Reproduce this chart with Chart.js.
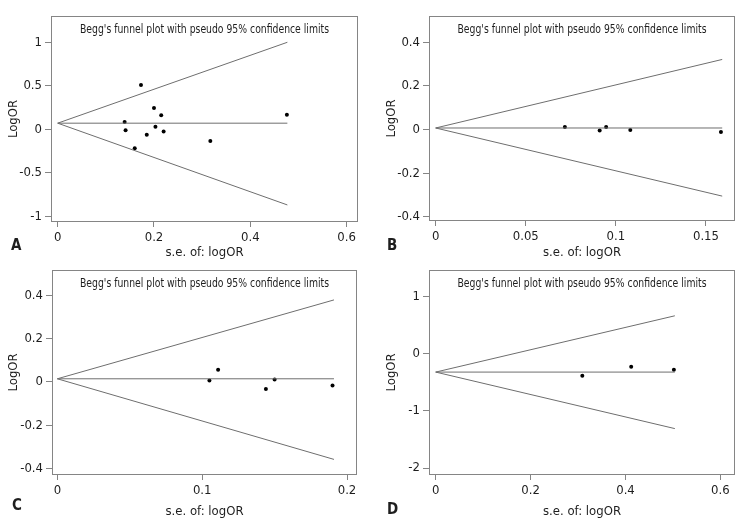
<!DOCTYPE html>
<html>
<head>
<meta charset="utf-8">
<script src="https://cdn.jsdelivr.net/npm/chart.js@4.4.1/dist/chart.umd.min.js"></script>
<style>
body{margin:0;background:#fff;}
#wrap{position:relative;width:750px;height:518px;background:#fff;}
canvas{position:absolute;}
</style>
</head>
<body>
<div id="wrap">
<canvas id="chartA" width="375" height="259" style="left:0;top:0"></canvas>
<canvas id="chartB" width="375" height="259" style="left:375px;top:0"></canvas>
<canvas id="chartC" width="375" height="259" style="left:0;top:259px"></canvas>
<canvas id="chartD" width="375" height="259" style="left:375px;top:259px"></canvas>
</div>
<script>
const plotTitle = "Begg's funnel plot with pseudo 95% confidence limits";
const xTitle = "s.e. of: logOR";
const yTitle = "LogOR";

// panel A
const seA = [0.139, 0.141, 0.173, 0.160, 0.185, 0.200, 0.203, 0.215, 0.220, 0.317, 0.476];
const logOrA = [0.084, -0.012, 0.51, -0.218, -0.062, 0.245, 0.03, 0.161, -0.027, -0.134, 0.168];
const funnelSeA = [0, 0.477];
const funnelUpA = [0.07, 1.0];
const funnelMidA = [0.07, 0.07];
const funnelLowA = [0.07, -0.87];
const xTicksA = [0, 0.2, 0.4, 0.6];
const yTicksA = [-1, -0.5, 0, 0.5, 1];

// panel B
const seB = [0.0717, 0.091, 0.0946, 0.108, 0.1583];
const logOrB = [0.012, -0.005, 0.012, -0.002, -0.011];
const funnelSeB = [0, 0.159];
const funnelUpB = [0.007, 0.321];
const funnelMidB = [0.007, 0.007];
const funnelLowB = [0.007, -0.305];
const xTicksB = [0, 0.05, 0.1, 0.15];
const yTicksB = [-0.4, -0.2, 0, 0.2, 0.4];

// panel C
const seC = [0.105, 0.111, 0.144, 0.150, 0.190];
const logOrC = [0.006, 0.056, -0.033, 0.011, -0.017];
const funnelSeC = [0, 0.191];
const funnelUpC = [0.014, 0.378];
const funnelMidC = [0.014, 0.014];
const funnelLowC = [0.014, -0.358];
const xTicksC = [0, 0.1, 0.2];
const yTicksC = [-0.4, -0.2, 0, 0.2, 0.4];

// panel D
const seD = [0.309, 0.412, 0.502];
const logOrD = [-0.385, -0.23, -0.28];
const funnelSeD = [0, 0.504];
const funnelUpD = [-0.322, 0.662];
const funnelMidD = [-0.322, -0.322];
const funnelLowD = [-0.322, -1.31];
const xTicksD = [0, 0.2, 0.4, 0.6];
const yTicksD = [-2, -1, 0, 1];

const FONT = "'Liberation Sans Narrow', 'DejaVu Sans Condensed', Arial, sans-serif";
const TEXT = "#1e1e1e";
const GREY = "#858585";

function pts(xs, ys){
    return xs.map((x, i) => ({x: x, y: ys[i]}));
}

const framePlugin = {
    id: "frame",
    afterDraw(chart, args, opts){
        const a = chart.chartArea;
        const c = chart.ctx;
        c.save();
        c.strokeStyle = GREY;
        c.lineWidth = 1;
        c.strokeRect(Math.round(a.left) + 0.5, Math.round(a.top) + 0.5,
            Math.round(a.right - a.left) - 1, Math.round(a.bottom - a.top) - 1);
        c.fillStyle = TEXT;
        c.font = "12.5px " + FONT;
        c.textAlign = "center";
        c.textBaseline = "alphabetic";
        // squeeze to the condensed width of the original
        c.fillText(plotTitle, (a.left + a.right) / 2, a.top + 17, 249);
        c.font = "bold 15px " + FONT;
        c.textAlign = "left";
        c.fillText(opts.letter, opts.lx, opts.ly);
        c.restore();
    }
};

function makePanel(id, p){
    const ctx = document.getElementById(id);
    return new Chart(ctx, {
        type: "scatter",
        data: {
            datasets: [
                {data: pts(p.fse, p.up), showLine: true, borderColor: "#6e6e6e", borderWidth: 1, pointRadius: 0},
                {data: pts(p.fse, p.mid), showLine: true, borderColor: "#6e6e6e", borderWidth: 1, pointRadius: 0},
                {data: pts(p.fse, p.low), showLine: true, borderColor: "#6e6e6e", borderWidth: 1, pointRadius: 0},
                {data: pts(p.se, p.lor), showLine: false, pointRadius: 2, pointBackgroundColor: "#000", pointBorderWidth: 0}
            ]
        },
        plugins: [framePlugin],
        options: {
            responsive: false,
            animation: false,
            layout: {padding: {left: 0, right: 375 - p.box[1], top: p.box[2], bottom: 0}},
            plugins: {
                legend: {display: false},
                tooltip: {enabled: false},
                frame: {letter: p.letter, lx: p.lx, ly: p.ly}
            },
            scales: {
                x: {
                    type: "linear",
                    min: p.xr[0], max: p.xr[1],
                    afterFit: (s) => { s.height = 259 - p.box[3]; },
                    afterBuildTicks: (s) => { s.ticks = p.xt.map(v => ({value: v})); },
                    border: {display: false},
                    grid: {drawOnChartArea: false, drawTicks: true, tickLength: 5, color: GREY},
                    ticks: {color: TEXT, padding: 3, maxRotation: 0, font: {family: FONT, size: 13}, callback: (v) => String(v)},
                    title: {display: true, text: xTitle, color: TEXT, font: {family: FONT, size: 13, lineHeight: 1}, padding: {top: p.xtp, bottom: 0}}
                },
                y: {
                    type: "linear",
                    min: p.yr[0], max: p.yr[1],
                    afterFit: (s) => { s.width = p.box[0]; },
                    afterBuildTicks: (s) => { s.ticks = p.yt.map(v => ({value: v})); },
                    border: {display: false},
                    grid: {drawOnChartArea: false, drawTicks: true, tickLength: 6, color: GREY},
                    ticks: {color: TEXT, padding: 3, font: {family: FONT, size: 13}, callback: (v) => String(v)},
                    title: {display: true, text: yTitle, color: TEXT, font: {family: FONT, size: 13, lineHeight: 1}, padding: {top: p.ytp, bottom: 0}}
                }
            }
        }
    });
}

makePanel("chartA", {
    se: seA, lor: logOrA, fse: funnelSeA, up: funnelUpA, mid: funnelMidA, low: funnelLowA,
    xt: xTicksA, yt: yTicksA, xr: [-0.0139, 0.6237], yr: [-1.066, 1.302],
    box: [51, 358, 16, 222], xtp: 0, ytp: 7.5, letter: "A", lx: 11, ly: 250
});
makePanel("chartB", {
    se: seB, lor: logOrB, fse: funnelSeB, up: funnelUpB, mid: funnelMidB, low: funnelLowB,
    xt: xTicksB, yt: yTicksB, xr: [-0.0037, 0.1661], yr: [-0.419, 0.520],
    box: [54, 360, 16, 221], xtp: 0, ytp: 10.5, letter: "B", lx: 12, ly: 250
});
makePanel("chartC", {
    se: seC, lor: logOrC, fse: funnelSeC, up: funnelUpC, mid: funnelMidC, low: funnelLowC,
    xt: xTicksC, yt: yTicksC, xr: [-0.0037, 0.2069], yr: [-0.430, 0.517],
    box: [52, 357, 9, 216], xtp: 4.5, ytp: 7.5, letter: "C", lx: 12, ly: 251
});
makePanel("chartD", {
    se: seD, lor: logOrD, fse: funnelSeD, up: funnelUpD, mid: funnelMidD, low: funnelLowD,
    xt: xTicksD, yt: yTicksD, xr: [-0.0141, 0.6308], yr: [-2.121, 1.466],
    box: [54, 360, 8, 216], xtp: 4.5, ytp: 10.5, letter: "D", lx: 12, ly: 255
});
</script>
</body>
</html>
